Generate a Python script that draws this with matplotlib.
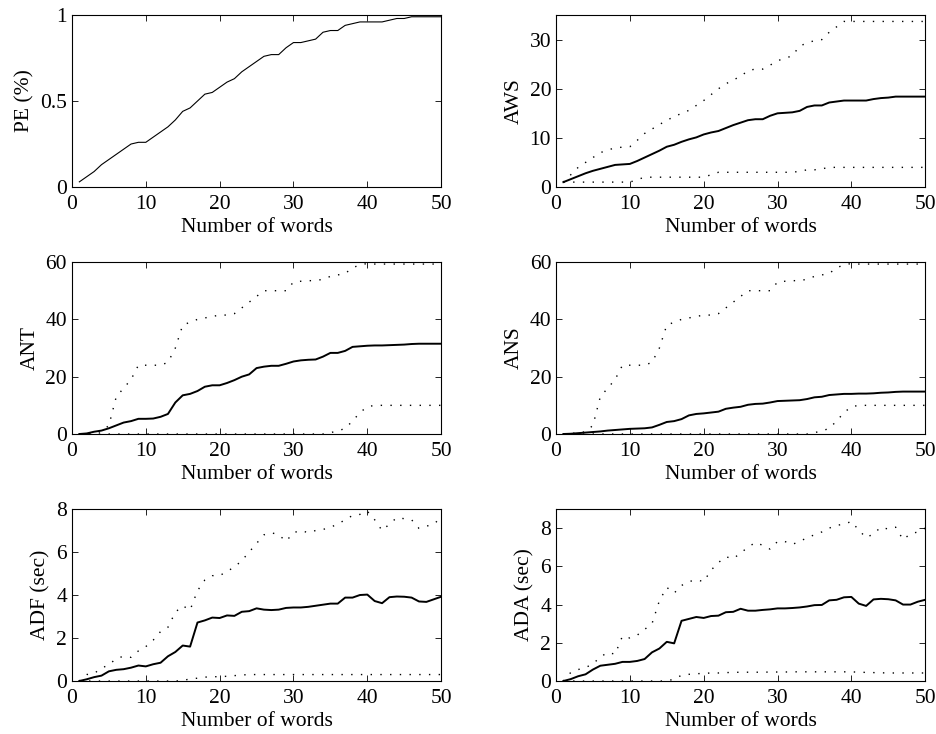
import matplotlib
matplotlib.use('Agg')
import matplotlib.pyplot as plt
import numpy as np

plt.rcParams['font.family'] = ['Liberation Serif', 'DejaVu Serif']
plt.rcParams['font.size'] = 15.5

words = np.arange(1, 51)

pe = [0.03, 0.06, 0.09, 0.13, 0.16, 0.19, 0.22, 0.25, 0.26, 0.26,
      0.29, 0.32, 0.35, 0.39, 0.44, 0.46, 0.50, 0.54, 0.55, 0.58,
      0.61, 0.63, 0.67, 0.70, 0.73, 0.76, 0.77, 0.77, 0.81, 0.84,
      0.84, 0.85, 0.86, 0.90, 0.91, 0.91, 0.94, 0.95, 0.96, 0.96,
      0.96, 0.96, 0.97, 0.98, 0.98, 0.99, 0.99, 0.99, 0.99, 0.99]

aws_mean = [1.0, 1.6, 2.2, 2.8, 3.3, 3.7, 4.1, 4.5, 4.6, 4.7,
            5.3, 6.0, 6.7, 7.4, 8.2, 8.6, 9.2, 9.7, 10.1, 10.7,
            11.1, 11.4, 12.0, 12.6, 13.1, 13.6, 13.8, 13.8, 14.5, 15.0,
            15.1, 15.2, 15.5, 16.3, 16.6, 16.6, 17.2, 17.4, 17.6, 17.6,
            17.6, 17.6, 17.9, 18.1, 18.2, 18.4, 18.4, 18.4, 18.4, 18.4]
aws_max = [1.0, 2.5, 4.0, 5.0, 6.0, 7.0, 7.5, 8.0, 8.1, 8.2,
           9.5, 10.9, 11.8, 12.7, 13.6, 14.3, 15.0, 15.6, 16.6, 17.6,
           18.8, 20.0, 21.0, 21.8, 22.5, 23.7, 24.0, 24.0, 24.8, 25.7,
           26.2, 26.7, 28.7, 29.3, 29.8, 30.0, 31.5, 32.6, 33.7, 33.7,
           33.7, 33.7, 33.7, 33.7, 33.7, 33.7, 33.7, 33.7, 33.7, 33.7]
aws_min = [1, 1, 1, 1, 1, 1, 1, 1, 1, 1,
           1.5, 2, 2, 2, 2, 2, 2, 2, 2, 2,
           2.5, 3, 3, 3, 3, 3, 3, 3, 3, 3,
           3, 3, 3.2, 3.5, 3.5, 3.7, 4, 4, 4, 4,
           4, 4, 4, 4, 4, 4, 4, 4, 4, 4]

ant_mean = [0.0, 0.2, 0.8, 1.2, 2.0, 3.0, 4.0, 4.5, 5.3, 5.3,
            5.4, 6.0, 7.0, 11.0, 13.5, 14.0, 15.0, 16.5, 17.0, 17.0,
            17.8, 18.8, 20.0, 20.8, 23.0, 23.5, 23.8, 23.8, 24.5, 25.3,
            25.7, 25.9, 26.0, 27.0, 28.3, 28.3, 29.0, 30.4, 30.6, 30.8,
            30.9, 30.9, 31.0, 31.1, 31.2, 31.4, 31.5, 31.5, 31.5, 31.5]
nt_max = [0.0, 0.2, 0.4, 0.8, 3.0, 13.0, 16.0, 19.0, 24.0, 24.0,
          24.0, 24.0, 25.0, 30.0, 38.0, 39.0, 40.0, 40.5, 41.0, 41.5,
          41.5, 42.0, 44.0, 46.0, 48.0, 50.0, 50.0, 50.0, 50.0, 53.0,
          53.3, 53.5, 53.5, 54.0, 55.0, 55.5, 56.0, 58.0, 59.0, 59.5,
          59.3, 59.3, 59.3, 59.3, 59.3, 59.3, 59.3, 59.3, 59.3, 59.3]
nt_min = [0, 0, 0, 0, 0, 0, 0, 0, 0, 0,
          0, 0, 0, 0, 0, 0, 0, 0, 0, 0,
          0, 0, 0, 0, 0, 0, 0, 0, 0, 0,
          0, 0, 0, 0, 0.5, 1.0, 2.0, 4.5, 7.5, 9.5,
          10, 10, 10, 10, 10, 10, 10, 10, 10, 10]

ans_mean = [0.0, 0.1, 0.3, 0.5, 0.7, 0.9, 1.2, 1.4, 1.6, 1.8,
            1.9, 2.0, 2.3, 3.2, 4.2, 4.5, 5.2, 6.5, 7.0, 7.2,
            7.5, 7.8, 8.8, 9.2, 9.5, 10.2, 10.5, 10.6, 11.0, 11.5,
            11.6, 11.7, 11.8, 12.2, 12.8, 13.0, 13.6, 13.8, 14.0, 14.0,
            14.1, 14.1, 14.2, 14.4, 14.5, 14.7, 14.8, 14.8, 14.8, 14.8]

adf_mean = [0.0, 0.08, 0.18, 0.25, 0.45, 0.52, 0.55, 0.62, 0.72, 0.68,
            0.78, 0.85, 1.15, 1.35, 1.65, 1.6, 2.72, 2.82, 2.95, 2.93,
            3.05, 3.03, 3.22, 3.25, 3.38, 3.32, 3.3, 3.32, 3.4, 3.42,
            3.42, 3.45, 3.5, 3.55, 3.6, 3.6, 3.88, 3.88, 4.0, 4.02,
            3.72, 3.62, 3.9, 3.93, 3.92, 3.88, 3.7, 3.68, 3.8, 3.92]
adf_max = [0.0, 0.3, 0.35, 0.6, 0.75, 1.05, 1.15, 1.1, 1.4, 1.6,
           1.9, 2.3, 2.5, 3.2, 3.5, 3.3, 4.2, 4.7, 4.9, 4.9,
           5.1, 5.3, 5.6, 6.0, 6.4, 6.8, 6.9, 6.8, 6.5, 6.9,
           7.0, 6.9, 7.0, 7.05, 7.15, 7.3, 7.5, 7.7, 7.75, 7.9,
           7.5, 7.0, 7.3, 7.6, 7.55, 7.5, 7.1, 7.2, 7.3, 7.6]
adf_min = [0, 0, 0, 0, 0, 0, 0, 0, 0, 0,
           0, 0, 0, 0, 0.02, 0.1, 0.13, 0.18, 0.2, 0.2,
           0.22, 0.25, 0.28, 0.3, 0.3, 0.3, 0.3, 0.3, 0.3, 0.3,
           0.3, 0.3, 0.3, 0.3, 0.3, 0.3, 0.3, 0.3, 0.3, 0.3,
           0.3, 0.3, 0.3, 0.3, 0.3, 0.3, 0.3, 0.3, 0.3, 0.3]

ada_mean = [0.0, 0.1, 0.25, 0.35, 0.6, 0.8, 0.85, 0.9, 1.0, 1.0,
            1.05, 1.15, 1.5, 1.7, 2.05, 1.97, 3.15, 3.25, 3.35, 3.3,
            3.4, 3.42, 3.6, 3.62, 3.78, 3.68, 3.68, 3.72, 3.75, 3.8,
            3.8, 3.82, 3.85, 3.9, 3.97, 3.98, 4.22, 4.25, 4.38, 4.4,
            4.05, 3.93, 4.27, 4.3, 4.28, 4.22, 4.0, 4.0, 4.15, 4.25]
ada_max = [0.0, 0.45, 0.6, 0.7, 0.9, 1.25, 1.5, 1.4, 2.35, 2.25,
           2.4, 2.7, 3.0, 4.2, 4.9, 4.6, 5.0, 5.2, 5.3, 5.2,
           5.8, 6.2, 6.5, 6.4, 6.7, 7.0, 7.25, 7.1, 6.9, 7.3,
           7.3, 7.15, 7.3, 7.5, 7.65, 7.8, 8.0, 8.15, 8.2, 8.35,
           7.9, 7.5, 7.7, 8.05, 7.95, 8.05, 7.4, 7.7, 7.8, 8.0]
ada_min = [0, 0, 0, 0, 0, 0, 0, 0, 0, 0,
           0, 0, 0, 0, 0, 0.1, 0.3, 0.35, 0.38, 0.4,
           0.42, 0.42, 0.44, 0.45, 0.46, 0.46, 0.46, 0.46, 0.47, 0.47,
           0.47, 0.48, 0.48, 0.48, 0.48, 0.48, 0.48, 0.48, 0.48, 0.48,
           0.46, 0.45, 0.44, 0.43, 0.42, 0.42, 0.42, 0.42, 0.42, 0.42]

fig = plt.figure(figsize=(9.37, 7.34), dpi=100)

colx = [0.0768, 0.5934]
rowy = [0.7452, 0.4087, 0.0722]
w = 0.394
h = 0.2343

panels = [
    ('PE (%)', pe, None, None, (0, 1), [0, 0.5, 1], 0.8),
    ('AWS', aws_mean, aws_max, aws_min, (0, 35), [0, 10, 20, 30], 1.4),
    ('ANT', ant_mean, nt_max, nt_min, (0, 60), [0, 20, 40, 60], 1.4),
    ('ANS', ans_mean, nt_max, nt_min, (0, 60), [0, 20, 40, 60], 1.4),
    ('ADF (sec)', adf_mean, adf_max, adf_min, (0, 8), [0, 2, 4, 6, 8], 1.4),
    ('ADA (sec)', ada_mean, ada_max, ada_min, (0, 9), [0, 2, 4, 6, 8], 1.4),
]

for i, (lab, mean, hi, lo, ylim, yt, lw) in enumerate(panels):
    r = i // 2
    c = i % 2
    ax = fig.add_axes([colx[c], rowy[r], w, h])
    ax.plot(words, mean, color='black', lw=lw)
    if hi is not None:
        ax.plot(words, hi, color='black', lw=1.0, linestyle=(0, (1, 6)))
        ax.plot(words, lo, color='black', lw=1.0, linestyle=(0, (1, 6)))
    ax.set_xlim(0, 50)
    ax.set_ylim(*ylim)
    ax.set_xticks([0, 10, 20, 30, 40, 50])
    ax.set_yticks(yt)
    if lab == 'PE (%)':
        ax.set_yticklabels(['0', '0.5', '1'])
    ax.tick_params(direction='in', top=True, right=True, length=4, width=0.6)
    ax.tick_params(axis='x', pad=5.5)
    ax.tick_params(axis='y', pad=3.5)
    ax.set_xlabel('Number of words', labelpad=3)
    ax.set_ylabel(lab, labelpad=4)
    for s in ax.spines.values():
        s.set_linewidth(0.8)

fig.savefig('out.png', dpi=100)
